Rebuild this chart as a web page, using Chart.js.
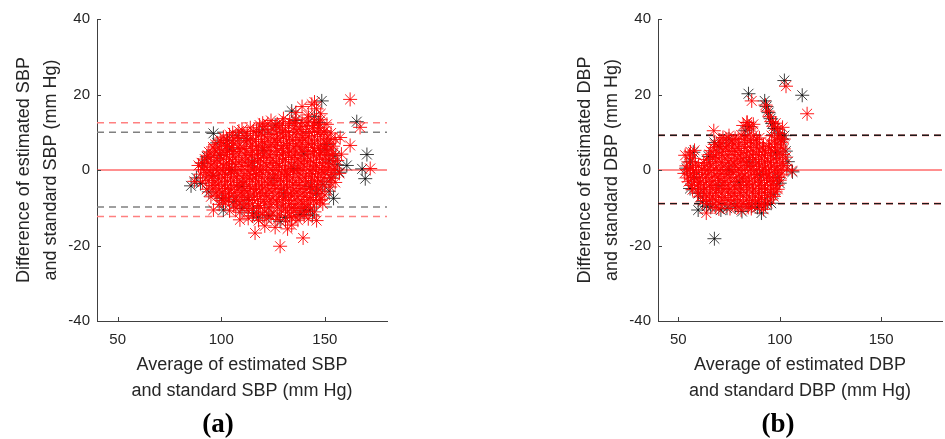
<!DOCTYPE html>
<html>
<head>
<meta charset="utf-8">
<script src="https://cdn.jsdelivr.net/npm/chart.js@4"></script>
<style>
  html,body{margin:0;padding:0;background:#fff;width:945px;height:439px;overflow:hidden;position:relative;}
  canvas{position:absolute;top:0;}
  .lab{position:absolute;top:407px;width:80px;text-align:center;font-family:"Liberation Serif",serif;font-weight:bold;font-size:27px;line-height:32px;color:#000;}
</style>
</head>
<body>
<canvas id="ca" width="470" height="439" style="left:0"></canvas>
<canvas id="cb" width="480" height="439" style="left:470px"></canvas>
<div class="lab" style="left:178px">(a)</div>
<div class="lab" style="left:738px">(b)</div>
<script>
// ---------- data ----------
const xRange = [40, 180];
const yRange = [-40, 40];
const xTicks = [50, 100, 150];
const yTicks = [-40, -20, 0, 20, 40];

const sbpGrayLimits = [10.0, -9.8];
const sbpRedLimits = [12.5, -12.3];
const dbpLimits = [9.2, -8.9];

const sbpBlack = [
[85.4,-4.2],[88,-2.1],[90,-3.6],[91,1.8],[93,3.5],[94,-5.8],[96.2,9.7],[98,7.2],[100,-7.5],[101,-10.6],
[103,7.8],[104,5.6],[106,-8.3],[108,9.1],[110,-10.2],[112,8.4],[115.5,-11.4],[118,-12.5],[120,10.8],[123,-12.1],
[126,11.9],[128.4,-13.6],[131,-12.6],[134,15.6],[136,13.1],[138,-11.8],[140,-10.8],[142.9,-10.6],[144,-11.9],[145,14.2],
[146,-6.2],[147,12.6],[148.5,18.3],[149,-3.8],[150,5.5],[151,6.8],[152,2.4],[153,-2.1],[154.2,-7.5],[155,3.8],
[156,1.4],[157,-0.6],[160.6,1.2],[165.4,12.8],[170.3,4.1],[169.5,-2.3],[168,0.3],[105,0.2],[115,2.1],[125,-2.2],
[135,0.4],[120,5.2],[130,-6.1],[110,-4.3],[140,4.2],[96,-1.5],[99,3.9],[113,-7.8],[143,-4.4],[152,-5.6]
];
const sbpRed = [
[136,15.2],[139,16.8],[142,14.6],[143.7,17.4],[146,16.2],[148,14.9],[145,18],
[120,12.4],[124,13.1],[127,12.2],[130,13.6],[133,12.8],[136,13.4],[139,12.6],[142,13.8],[145,12.9],[148,13.3],[151,12.1],
[110,10.6],[114,11.2],[117,10.4],[121,11.5],[125,10.8],[128,11.3],[131,10.5],[135,11.1],[138,10.7],[141,11.6],[144,10.9],[147,11.2],[150,10.4],[153,9.8],
[101,8.7],[104,9.3],[107,8.6],[111,9.1],[114,8.4],[118,9.2],[121,8.8],[124,9.4],[127,8.5],[130,9.0],[133,8.7],[136,9.3],[139,8.6],[142,9.1],[145,8.8],[148,9.4],[151,8.4],[155,8.1],
[97,6.8],[100,7.3],[103,6.5],[106,7.1],[109,6.6],[112,7.4],[115,6.9],[118,6.4],[121,7.2],[124,6.7],[127,7.3],[130,6.5],[133,7.0],[136,6.6],[139,7.2],[142,6.8],[145,7.1],[148,6.4],[151,7.0],[154,6.3],
[94,4.8],[97,5.3],[100,4.6],[103,5.2],[106,4.9],[109,5.4],[112,4.7],[115,5.1],[118,4.5],[121,5.3],[124,4.8],[127,5.2],[130,4.6],[133,5.0],[136,4.7],[139,5.3],[142,4.9],[145,5.2],[148,4.6],[151,5.1],[154,4.4],
[92,2.9],[95,3.3],[98,2.6],[101,3.1],[104,2.8],[107,3.4],[110,2.7],[113,3.2],[116,2.5],[119,3.0],[122,3.3],[125,2.6],[128,3.1],[131,2.8],[134,3.3],[137,2.7],[140,3.0],[143,2.6],[146,3.2],[149,2.8],[152,3.1],[156,2.5],
[89,1.2],[92,0.8],[95,1.3],[98,0.6],[101,1.1],[104,0.7],[107,1.4],[110,0.9],[113,1.2],[116,0.6],[119,1.0],[122,1.3],[125,0.7],[128,1.2],[131,0.8],[134,1.1],[137,0.6],[140,1.3],[143,0.9],[146,1.2],[149,0.7],[152,1.0],[155,0.5],
[90,-1.1],[93,-0.7],[96,-1.3],[99,-0.8],[102,-1.2],[105,-0.6],[108,-1.0],[111,-1.4],[114,-0.9],[117,-1.2],[120,-0.7],[123,-1.1],[126,-1.3],[129,-0.8],[132,-1.2],[135,-0.6],[138,-1.0],[141,-1.3],[144,-0.9],[147,-1.1],[150,-0.7],[153,-1.2],[157,-0.9],
[91,-3.2],[94,-2.8],[97,-3.4],[100,-2.9],[103,-3.1],[106,-2.7],[109,-3.3],[112,-3.0],[115,-2.6],[118,-3.2],[121,-2.9],[124,-3.4],[127,-2.8],[130,-3.1],[133,-2.7],[136,-3.3],[139,-2.9],[142,-3.2],[145,-2.8],[148,-3.1],[152,-2.9],[155,-3.3],
[93,-5.1],[96,-4.8],[99,-5.3],[102,-4.9],[105,-5.2],[108,-4.7],[111,-5.4],[114,-4.9],[117,-5.2],[120,-4.8],[123,-5.3],[126,-4.9],[129,-5.1],[132,-4.7],[135,-5.3],[138,-4.9],[141,-5.2],[144,-4.8],[147,-5.1],[152.6,-4.5],
[95,-7.1],[98,-6.8],[101,-7.3],[104,-6.9],[107,-7.2],[110,-6.7],[113,-7.3],[116,-6.9],[119,-7.1],[122,-6.8],[125,-7.4],[128,-6.9],[131,-7.2],[134,-6.7],[137,-7.1],[140,-6.9],[143,-7.3],[147.5,-7.8],[150,-6.6],
[99,-9.1],[102,-8.7],[106,-9.3],[109,-8.8],[112,-9.2],[115,-8.9],[118,-9.4],[121,-8.8],[124,-9.1],[127,-8.7],[130,-9.3],[133,-8.9],[136,-9.2],[139,-8.8],[142,-9.1],[146,-8.7],[149,-9.0],
[96.2,-10.6],[104,-10.8],[109,-11.2],[113,-10.7],[117,-11.3],[121,-10.9],[125,-11.4],[129,-10.8],[132,-11.2],[135,-10.7],[138,-11.3],[141,-10.9],[145,-11.1],
[109,-13.2],[113,-12.8],[118,-13.4],[122,-12.9],[127,-13.1],[131,-13.5],[134,-12.7],[137,-13.3],[142,-12.9],[146,-13.4],
[116.3,-16.7],[121,-14.8],[126,-15.2],[132,-15.6],[128.4,-20.2],[139.5,-18],[134,-14.6],
[162.2,18.7],[167,11.3],[162.2,6.5],[171.9,0.4],[157.4,8.6],[87,-3],[158,4.2],
[118.5,11.9],[122.5,12.2],[126.5,11.7],[129.5,12.4],[132.5,11.8],[135.5,12.3],[138.5,11.6],[141.5,12.5],[144.5,11.8],[147.5,12.2],
[105.5,9.9],[108.5,10.3],[112.5,9.7],[115.5,10.2],[119.5,9.8],[122.5,10.4],[126.5,9.6],[129.5,10.1],[132.5,9.9],[136.5,10.3],[139.5,9.7],[142.5,10.2],[146.5,9.9],[149.5,10.1],
[99.5,7.9],[102.5,8.2],[105.5,7.7],[108.5,8.3],[112.5,7.8],[116.5,8.1],[119.5,7.6],[122.5,8.2],[125.5,7.9],[128.5,8.3],[131.5,7.7],[134.5,8.1],[137.5,7.8],[140.5,8.2],[143.5,7.9],[146.5,8.0],[149.5,7.7],[152.5,8.2],
[96,6.1],[99,5.8],[102,6.2],[105,5.9],[108,6.0],[111,5.7],[114,6.2],[117,5.8],[120,6.1],[123,5.9],[126,6.3],[129,5.7],[132,6.1],[135,5.8],[138,6.2],[141,5.9],[144,6.0],[147,5.7],[150,6.1],[153,5.8],
[93.5,3.9],[96.5,4.2],[99.5,3.8],[102.5,4.1],[105.5,3.7],[108.5,4.3],[111.5,3.9],[114.5,4.1],[117.5,3.8],[120.5,4.2],[123.5,3.7],[126.5,4.1],[129.5,3.9],[132.5,4.2],[135.5,3.8],[138.5,4.0],[141.5,3.7],[144.5,4.2],[147.5,3.9],[150.5,4.1],[153.5,3.8],
[90.5,1.9],[93.5,2.2],[96.5,1.8],[99.5,2.1],[102.5,1.7],[105.5,2.2],[108.5,1.9],[111.5,2.1],[114.5,1.8],[117.5,2.3],[120.5,1.9],[123.5,2.0],[126.5,1.7],[129.5,2.2],[132.5,1.9],[135.5,2.1],[138.5,1.8],[141.5,2.2],[144.5,1.9],[147.5,2.0],[150.5,1.7],[154,2.1],
[91.5,0.1],[94.5,-0.2],[97.5,0.2],[100.5,-0.1],[103.5,0.3],[106.5,-0.2],[109.5,0.1],[112.5,-0.3],[115.5,0.2],[118.5,-0.1],[121.5,0.2],[124.5,-0.2],[127.5,0.1],[130.5,-0.3],[133.5,0.2],[136.5,-0.1],[139.5,0.2],[142.5,-0.2],[145.5,0.1],[148.5,-0.3],[151.5,0.2],[154.5,-0.1],
[92.5,-2.1],[95.5,-1.8],[98.5,-2.2],[101.5,-1.9],[104.5,-2.1],[107.5,-1.8],[110.5,-2.3],[113.5,-1.9],[116.5,-2.2],[119.5,-1.8],[122.5,-2.1],[125.5,-1.9],[128.5,-2.2],[131.5,-1.8],[134.5,-2.1],[137.5,-1.9],[140.5,-2.2],[143.5,-1.8],[146.5,-2.1],[149.5,-1.9],[153.5,-2.2],
[95.5,-4.1],[98.5,-3.8],[101.5,-4.2],[104.5,-3.9],[107.5,-4.1],[110.5,-3.8],[113.5,-4.3],[116.5,-3.9],[119.5,-4.2],[122.5,-3.8],[125.5,-4.1],[128.5,-3.9],[131.5,-4.2],[134.5,-3.8],[137.5,-4.1],[140.5,-3.9],[143.5,-4.2],[146.5,-3.8],[150,-4.0],
[97.5,-6.1],[100.5,-5.8],[103.5,-6.2],[106.5,-5.9],[109.5,-6.1],[112.5,-5.8],[115.5,-6.3],[118.5,-5.9],[121.5,-6.2],[124.5,-5.8],[127.5,-6.1],[130.5,-5.9],[133.5,-6.2],[136.5,-5.8],[139.5,-6.1],[142.5,-5.9],[145.5,-6.2],[148.5,-5.8],
[100.5,-8.1],[103.5,-7.8],[107.5,-8.2],[110.5,-7.9],[113.5,-8.1],[117.5,-7.8],[120.5,-8.3],[123.5,-7.9],[126.5,-8.2],[129.5,-7.8],[132.5,-8.1],[135.5,-7.9],[138.5,-8.2],[141.5,-7.8],[144.5,-8.1],[148,-8.0],
[107,-10.1],[111,-9.8],[115,-10.2],[119,-9.9],[123,-10.1],[127,-9.8],[131,-10.3],[134,-9.9],[137,-10.2],[140,-9.8],[143,-10.1],
[115,-12.1],[120,-11.8],[124,-12.2],[128,-11.9],[133,-12.1],[136,-12.4],[140,-12.0]
];

const dbpBlack = [
[67.8,-18.2],[84.6,20.2],[102.3,23.7],[111.1,19.8],[92.6,18.3],[91,-11.4],[57.4,4.7],[59.8,-10.6],[55.8,-4.9],[106.3,-0.5],
[71,-10.6],[81.4,-11],[102.3,9.1],[95.8,-8.8],[67.8,7.3],[93.5,16.8],[94.5,15.2],[95.5,13.6],[96.5,12.3],[97.5,11.0],
[99,9.8],[101,8.2],[103,5.0],[104,2.2],[100,-3.5],[54,0.5],[56,2.2],[58,-2],[60,-6.2],[62,-8.4],
[64,-9.6],[66,-9.9],[74,-10.1],[78,-9.8],[86,-9.6],[89,-9.9],[93,-9.1],[97,-6.4],[99,-2.0],[98,4.5],
[83,10.4],[85,11.5],[75,8.2],[70,6.2],[65,3.6],[75,0.1],[80,-3.2],[85,2.1],[90,-1.2],[70,-4.1]
];
const dbpRed = [
[82,11.8],[84,12.6],[86,11.4],[83.8,12.6],[85,10.9],[87,12.1],
[86.2,18.3],[93,17.2],[94,15.6],[95,14.1],[96,12.8],[97,11.6],[98,12.4],[99,10.8],[101.4,11.3],[100,9.6],[103.1,22.2],[113.5,14.9],
[67.5,10.4],[72,8.6],[75,9.1],[78,8.4],[81,9.3],[84,8.8],[87,9.2],[90,8.5],[96,9.1],[99,8.7],[102,8.2],
[68,6.8],[71,7.2],[74,6.6],[77,7.1],[80,6.7],[83,7.3],[86,6.9],[89,7.2],[92,6.6],[95,7.1],[98,6.8],[101,7.4],
[56,4.8],[58,5.2],[66,5.1],[69,4.7],[72,5.3],[75,4.9],[78,5.2],[81,4.6],[84,5.1],[87,4.8],[90,5.3],[93,4.7],[96,5.2],[99,4.8],[102,5.6],
[53.4,3.9],[57,3.1],[64,2.8],[67,3.3],[70,2.9],[73,3.2],[76,2.6],[79,3.1],[82,2.7],[85,3.3],[88,2.8],[91,3.2],[94,2.6],[97,3.1],[100,2.9],[103,3.4],
[54,1.1],[57,0.7],[60,1.2],[63,0.8],[66,1.3],[69,0.6],[72,1.1],[75,0.8],[78,1.3],[81,0.7],[84,1.2],[87,0.9],[90,1.3],[93,0.6],[96,1.1],[99,0.8],[102,1.2],
[53,-0.9],[56,-1.3],[59,-0.7],[62,-1.2],[65,-0.8],[68,-1.3],[71,-0.9],[74,-1.2],[77,-0.7],[80,-1.1],[83,-1.3],[86,-0.8],[89,-1.2],[92,-0.9],[95,-1.3],[98,-0.7],[101,-1.1],[106,-0.2],
[55,-3.1],[58,-2.7],[61,-3.3],[64,-2.9],[67,-3.2],[70,-2.8],[73,-3.3],[76,-2.9],[79,-3.1],[82,-2.7],[85,-3.2],[88,-2.9],[91,-3.3],[94,-2.8],[97,-3.1],[100,-2.7],
[57,-5.2],[60,-4.8],[63,-5.1],[66,-4.7],[69,-5.3],[72,-4.9],[75,-5.2],[78,-4.8],[81,-5.1],[84,-4.7],[87,-5.3],[90,-4.9],[93,-5.2],[96,-4.8],[99,-5.1],
[61,-7.1],[64,-6.8],[67,-7.2],[70,-6.9],[73,-7.3],[76,-6.8],[79,-7.1],[82,-6.7],[85,-7.2],[88,-6.9],[91,-7.3],[94,-6.8],[97,-7.0],
[64,-8.9],[67,-9.2],[70,-8.7],[73,-9.1],[76,-8.8],[79,-9.3],[82,-8.9],[85,-9.1],[88,-8.7],[91,-9.2],[94,-8.8],
[63.8,-11.4],[81,-10.6],[86,-10.2],[92,-10.4],[70,-10.3],
[70.5,7.9],[73.5,8.2],[76.5,7.7],[79.5,8.1],[82.5,8.4],[85.5,7.8],[88.5,8.1],[97.5,7.9],[100.5,8.0],
[67.5,5.9],[70.5,6.2],[73.5,5.8],[76.5,6.1],[79.5,5.7],[82.5,6.2],[85.5,5.9],[88.5,6.1],[91.5,5.8],[94.5,6.2],[97.5,5.9],[100.5,6.1],
[55.5,4.0],[65.5,4.1],[68.5,3.8],[71.5,4.2],[74.5,3.9],[77.5,4.1],[80.5,3.7],[83.5,4.2],[86.5,3.9],[89.5,4.1],[92.5,3.8],[95.5,4.2],[98.5,3.9],[101.5,4.1],
[55.5,2.1],[58.5,1.8],[62.5,2.0],[65.5,1.8],[68.5,2.2],[71.5,1.9],[74.5,2.1],[77.5,1.8],[80.5,2.2],[83.5,1.9],[86.5,2.1],[89.5,1.8],[92.5,2.2],[95.5,1.9],[98.5,2.1],[101.5,1.8],
[54.5,0.1],[57.5,-0.2],[61.5,0.2],[64.5,-0.1],[67.5,0.2],[70.5,-0.2],[73.5,0.1],[76.5,-0.3],[79.5,0.2],[82.5,-0.1],[85.5,0.2],[88.5,-0.2],[91.5,0.1],[94.5,-0.3],[97.5,0.2],[100.5,-0.1],[103.5,0.2],
[54.5,-2.1],[57.5,-1.8],[60.5,-2.2],[63.5,-1.9],[66.5,-2.1],[69.5,-1.8],[72.5,-2.2],[75.5,-1.9],[78.5,-2.1],[81.5,-1.8],[84.5,-2.2],[87.5,-1.9],[90.5,-2.1],[93.5,-1.8],[96.5,-2.2],[99.5,-1.9],
[56.5,-4.1],[59.5,-3.8],[62.5,-4.2],[65.5,-3.9],[68.5,-4.1],[71.5,-3.8],[74.5,-4.2],[77.5,-3.9],[80.5,-4.1],[83.5,-3.8],[86.5,-4.2],[89.5,-3.9],[92.5,-4.1],[95.5,-3.8],[98.5,-4.1],
[59.5,-6.1],[62.5,-5.8],[65.5,-6.2],[68.5,-5.9],[71.5,-6.1],[74.5,-5.8],[77.5,-6.2],[80.5,-5.9],[83.5,-6.1],[86.5,-5.8],[89.5,-6.2],[92.5,-5.9],[95.5,-6.1],[98,-5.8],
[62.5,-8.1],[65.5,-7.8],[68.5,-8.2],[71.5,-7.9],[74.5,-8.1],[77.5,-7.8],[80.5,-8.2],[83.5,-7.9],[86.5,-8.1],[89.5,-7.8],[92.5,-8.2],[95.5,-7.9],
[68.5,-9.9],[75.5,-10.2],[79.5,-9.7],[84.5,-9.9],[90,-9.6]
];

// ---------- helpers ----------
const TXT = '#262626';
const AX = '#404040';
const toPts = arr => arr.map(p => ({x: p[0], y: p[1]}));
const hline = (v, color, width, dash, order) => ({
  type: 'line', data: [{x: xRange[0], y: v}, {x: xRange[1], y: v}],
  borderColor: color, borderWidth: width, borderDash: dash, pointRadius: 0,
  fill: false, order: order
});
const stars = (arr, color, order) => ({
  type: 'scatter', data: toPts(arr), pointStyle: 'star', pointRadius: 7,
  pointBorderColor: color, pointBackgroundColor: color, pointBorderWidth: 1,
  borderColor: color, showLine: false, order: order
});

const inwardTicks = {
  id: 'inwardTicks',
  afterDraw(chart) {
    const ctx = chart.ctx, xs = chart.scales.x, ys = chart.scales.y, a = chart.chartArea;
    ctx.save();
    ctx.strokeStyle = AX; ctx.lineWidth = 1;
    ctx.beginPath();
    xTicks.forEach(v => { const px = Math.round(xs.getPixelForValue(v)) + 0.5; ctx.moveTo(px, a.bottom); ctx.lineTo(px, a.bottom - 4); });
    yTicks.forEach(v => { const py = Math.round(ys.getPixelForValue(v)) + 0.5; ctx.moveTo(a.left, py); ctx.lineTo(a.left + 4, py); });
    ctx.stroke();
    ctx.restore();
  }
};

function makeChart(id, datasets, yTitle, xTitle, padLeft, padRight, yWidth, yTitlePad) {
  return new Chart(document.getElementById(id), {
    type: 'scatter',
    data: { datasets: datasets },
    plugins: [inwardTicks],
    options: {
      responsive: false, animation: false, devicePixelRatio: 1,
      layout: { padding: { left: padLeft, top: 19, right: padRight, bottom: 35 } },
      plugins: { legend: { display: false }, tooltip: { enabled: false } },
      scales: {
        x: {
          type: 'linear', min: xRange[0], max: xRange[1],
          afterBuildTicks: s => { s.ticks = xTicks.map(v => ({ value: v })); },
          afterFit: s => { s.height = 83; },
          grid: { display: false, drawTicks: false },
          border: { display: true, color: AX, width: 1 },
          ticks: { color: TXT, padding: 10, font: { family: 'Liberation Sans', size: 15 }, maxRotation: 0 },
          title: { display: true, text: xTitle, color: TXT, padding: { top: 0, bottom: 0 },
                   font: { family: 'Liberation Sans', size: 18, lineHeight: '26px' } }
        },
        y: {
          type: 'linear', min: yRange[0], max: yRange[1],
          afterBuildTicks: s => { s.ticks = yTicks.map(v => ({ value: v })); },
          afterFit: s => { s.width = yWidth; },
          grid: { display: false, drawTicks: false },
          border: { display: true, color: AX, width: 1 },
          ticks: { color: TXT, padding: 7, font: { family: 'Liberation Sans', size: 15 } },
          title: { display: true, text: yTitle, color: TXT, padding: { top: yTitlePad, bottom: 0 },
                   font: { family: 'Liberation Sans', size: 18, lineHeight: '27px' } }
        }
      }
    }
  });
}

makeChart('ca', [
  stars(sbpRed, 'rgba(255,0,0,0.9)', 0),
  stars(sbpBlack, 'rgba(0,0,0,0.75)', 1),
  hline(0, '#ff2020', 1, [], 2),
  hline(sbpGrayLimits[0], '#808080', 1.6, [7, 5], 3),
  hline(sbpGrayLimits[1], '#808080', 1.6, [7, 5], 3),
  hline(sbpRedLimits[0], '#ff8080', 1.6, [7, 5], 3),
  hline(sbpRedLimits[1], '#ff8080', 1.6, [7, 5], 3)
], ['Difference of estimated SBP', 'and standard SBP (mm Hg)'],
   ['Average of estimated SBP', 'and standard SBP (mm Hg)'], 0, 83, 97, 10.5);

makeChart('cb', [
  stars(dbpRed, 'rgba(255,0,0,0.9)', 0),
  stars(dbpBlack, 'rgba(0,0,0,0.75)', 1),
  hline(0, '#ff2020', 1, [], 2),
  hline(dbpLimits[0], '#1a1a1a', 1.4, [7, 5], 3),
  hline(dbpLimits[1], '#1a1a1a', 1.4, [7, 5], 3),
  hline(dbpLimits[0], 'rgba(255,0,0,0.3)', 2.6, [7, 5], 4),
  hline(dbpLimits[1], 'rgba(255,0,0,0.3)', 2.6, [7, 5], 4)
], ['Difference of estimated DBP', 'and standard DBP (mm Hg)'],
   ['Average of estimated DBP', 'and standard DBP (mm Hg)'], 90, 2, 98, 11.5);
</script>
</body>
</html>
